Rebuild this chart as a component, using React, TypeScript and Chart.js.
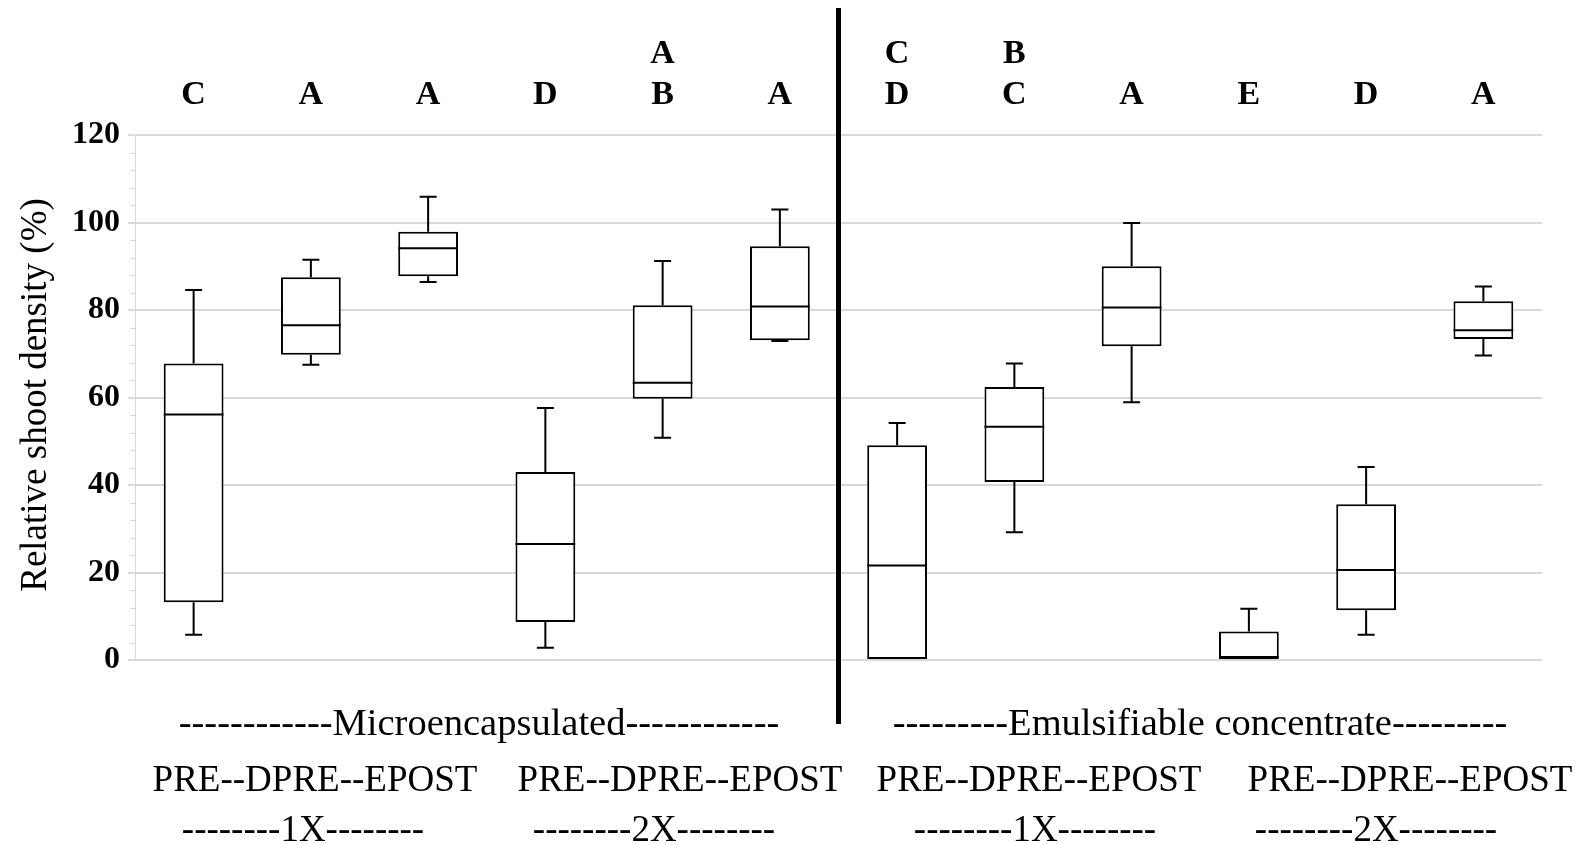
import React, { useEffect, useRef } from "react";
import { Chart, registerables } from "chart.js";

Chart.register(...registerables);

// ---- data ----
const categories = [
  "ME 1X PRE", "ME 1X DPRE", "ME 1X EPOST",
  "ME 2X PRE", "ME 2X DPRE", "ME 2X EPOST",
  "EC 1X PRE", "EC 1X DPRE", "EC 1X EPOST",
  "EC 2X PRE", "EC 2X DPRE", "EC 2X EPOST",
];
const whiskerLow = [5.8, 67.5, 86.4, 2.8, 50.8, 72.9, 0, 29.2, 58.9, 0, 5.8, 69.6];
const quartile1 = [13.2, 69.8, 87.7, 8.7, 59.7, 73.1, 0, 40.7, 71.7, 0, 11.4, 73.4];
const medians = [56.1, 76.5, 94.1, 26.5, 63.4, 80.8, 21.6, 53.3, 80.6, 0.7, 20.6, 75.4];
const quartile3 = [67.8, 87.5, 97.9, 43.0, 81.1, 94.6, 49.1, 62.4, 90.0, 6.5, 35.6, 82.0];
const whiskerHigh = [84.6, 91.5, 105.9, 57.6, 91.2, 103.0, 54.2, 67.8, 99.9, 11.7, 44.1, 85.4];

const lettersUpper = ["", "", "", "", "A", "", "C", "B", "", "", "", ""];
const lettersLower = ["C", "A", "A", "D", "B", "A", "D", "C", "A", "E", "D", "A"];

const yTickValues = [0, 20, 40, 60, 80, 100, 120];
const yTitle = "Relative shoot density (%)";
const formulationLabels = [
  "------------Microencapsulated------------",
  "---------Emulsifiable concentrate---------",
];
const timingLabel = "PRE--DPRE--EPOST";
const rateLabels = ["--------1X--------", "--------2X--------", "--------1X--------", "--------2X--------"];

const SERIF = "'Liberation Serif', 'Times New Roman', serif";

const boxPlugin = {
  id: "boxExtras",
  afterDatasetsDraw(chart: any) {
    const ctx = chart.ctx;
    const y = chart.scales.y;
    const meta = chart.getDatasetMeta(0);
    ctx.save();
    ctx.strokeStyle = "#000";
    ctx.lineWidth = 2;
    ctx.lineCap = "butt";
    const cap = 8.5;
    meta.data.forEach((bar: any, i: number) => {
      const { x, width } = bar.getProps(["x", "width"], true);
      const yMin = y.getPixelForValue(whiskerLow[i]);
      const yQ1 = y.getPixelForValue(quartile1[i]);
      const yMed = y.getPixelForValue(medians[i]);
      const yQ3 = y.getPixelForValue(quartile3[i]);
      const yMax = y.getPixelForValue(whiskerHigh[i]);
      ctx.beginPath();
      ctx.moveTo(x, yQ3);
      ctx.lineTo(x, yMax);
      ctx.moveTo(x - cap, yMax);
      ctx.lineTo(x + cap, yMax);
      if (whiskerLow[i] < quartile1[i]) {
        ctx.moveTo(x, yQ1);
        ctx.lineTo(x, yMin);
        ctx.moveTo(x - cap, yMin);
        ctx.lineTo(x + cap, yMin);
      }
      ctx.moveTo(x - width / 2, yMed);
      ctx.lineTo(x + width / 2, yMed);
      ctx.stroke();
    });
    ctx.restore();
  },
  afterDraw(chart: any) {
    const ctx = chart.ctx;
    const xs = chart.scales.x;
    const ys = chart.scales.y;
    const area = chart.chartArea;
    ctx.save();

    // minor ticks on y axis
    ctx.strokeStyle = "#d9d9d9";
    ctx.lineWidth = 1;
    ctx.beginPath();
    for (let v = 4; v < 120; v += 4) {
      if (v % 20 === 0) continue;
      const py = Math.round(ys.getPixelForValue(v)) + 0.5;
      ctx.moveTo(area.left - 5, py);
      ctx.lineTo(area.left, py);
    }
    ctx.stroke();

    // separator
    const sepX = (xs.getPixelForValue(5) + xs.getPixelForValue(6)) / 2;
    ctx.strokeStyle = "#000";
    ctx.lineWidth = 5;
    ctx.beginPath();
    ctx.moveTo(sepX, 8);
    ctx.lineTo(sepX, 724);
    ctx.stroke();

    // significance letters
    ctx.fillStyle = "#000";
    ctx.textAlign = "center";
    ctx.textBaseline = "alphabetic";
    ctx.font = `bold 34px ${SERIF}`;
    categories.forEach((_, i) => {
      const px = xs.getPixelForValue(i);
      if (lettersUpper[i]) ctx.fillText(lettersUpper[i], px, 63);
      if (lettersLower[i]) ctx.fillText(lettersLower[i], px, 104);
    });

    // y title
    ctx.save();
    ctx.translate(36, 395);
    ctx.rotate(-Math.PI / 2);
    ctx.font = `37px ${SERIF}`;
    ctx.textBaseline = "middle";
    ctx.fillText(yTitle, 0, 0);
    ctx.restore();

    // bottom labels
    ctx.textBaseline = "alphabetic";
    ctx.font = `38.5px ${SERIF}`;
    ctx.fillText(formulationLabels[0], 479, 735);
    ctx.fillText(formulationLabels[1], 1200, 735);
    ctx.font = `37px ${SERIF}`;
    const timingX = [315, 680, 1039, 1410];
    timingX.forEach((tx) => ctx.fillText(timingLabel, tx, 791));
    const rateX = [303, 654, 1035, 1376];
    rateX.forEach((rx, i) => ctx.fillText(rateLabels[i], rx, 841));

    ctx.restore();
  },
};

export default function App() {
  const canvasRef = useRef<HTMLCanvasElement | null>(null);

  useEffect(() => {
    if (!canvasRef.current) return;
    const chart = new Chart(canvasRef.current, {
      type: "bar",
      data: {
        labels: categories,
        datasets: [
          {
            data: categories.map((_, i) => [quartile1[i], quartile3[i]]) as any,
            backgroundColor: "#ffffff",
            borderColor: "#000000",
            borderWidth: 2,
            borderSkipped: false,
            barPercentage: 0.51,
            categoryPercentage: 1,
          },
        ],
      },
      options: {
        responsive: false,
        animation: false,
        layout: { padding: { top: 135, bottom: 185, left: 0, right: 39 } },
        plugins: {
          legend: { display: false },
          tooltip: { enabled: false },
          title: { display: false },
        },
        scales: {
          x: { display: false },
          y: {
            min: 0,
            max: 120,
            afterFit: (scale: any) => {
              scale.width = 135;
            },
            afterBuildTicks: (scale: any) => {
              scale.ticks = yTickValues.map((v) => ({ value: v }));
            },
            border: { display: true, color: "#d9d9d9", width: 1 },
            grid: {
              color: "#d9d9d9",
              lineWidth: 2,
              drawTicks: true,
              tickLength: 7,
            },
            ticks: {
              padding: 8,
              color: "#000",
              font: { family: SERIF, size: 32, weight: "bold" },
            },
          },
        },
      },
      plugins: [boxPlugin],
    });
    return () => chart.destroy();
  }, []);

  return (
    <div style={{ position: "fixed", left: 0, top: 0, width: 1581, height: 845, background: "#fff" }}>
      <canvas ref={canvasRef} width={1581} height={845} style={{ display: "block" }} />
    </div>
  );
}
